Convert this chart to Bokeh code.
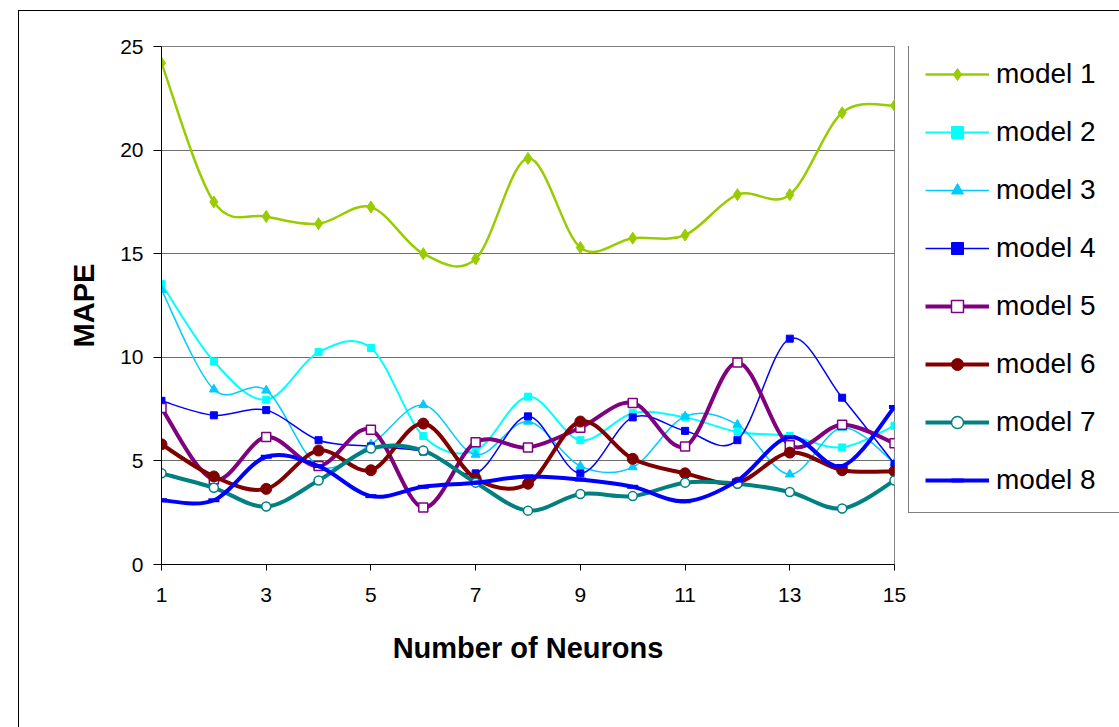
from bokeh.plotting import figure
from bokeh.layouts import row
from bokeh.models import (ColumnDataSource, Legend, LegendItem, FixedTicker, Range1d)
from bokeh.embed import file_html
from bokeh.resources import INLINE

# ---------------- data ----------------
neurons = [1, 2, 3, 4, 5, 6, 7, 8, 9, 10, 11, 12, 13, 14, 15]
model_1 = [24.2, 17.5, 16.8, 16.45, 17.25, 15.0, 14.75, 19.6, 15.3, 15.75, 15.9, 17.85, 17.85, 21.8, 22.15]
model_2 = [13.55, 9.8, 7.95, 10.25, 10.45, 6.2, 5.5, 8.1, 6.0, 7.3, 7.1, 6.4, 6.2, 5.65, 6.7]
model_3 = [13.25, 8.45, 8.4, 4.75, 5.8, 7.7, 5.3, 6.9, 4.75, 4.7, 7.15, 6.75, 4.35, 6.6, 4.9]
model_4 = [7.9, 7.2, 7.45, 6.0, 5.7, 5.45, 4.4, 7.15, 4.4, 7.1, 6.45, 6.0, 10.9, 8.05, 4.85]
model_5 = [7.55, 4.1, 6.15, 4.75, 6.5, 2.75, 5.9, 5.65, 6.6, 7.8, 5.7, 9.75, 5.75, 6.75, 5.85]
model_6 = [5.8, 4.25, 3.65, 5.5, 4.55, 6.8, 4.15, 3.9, 6.9, 5.1, 4.4, 3.95, 5.4, 4.55, 4.5]
model_7 = [4.4, 3.7, 2.8, 4.05, 5.6, 5.5, 3.95, 2.6, 3.4, 3.3, 3.95, 3.9, 3.5, 2.7, 4.05]
model_8 = [3.1, 3.1, 5.2, 4.75, 3.3, 3.75, 3.95, 4.25, 4.1, 3.75, 3.05, 4.05, 6.15, 4.75, 7.6]

series_names = ["model 1", "model 2", "model 3", "model 4",
                "model 5", "model 6", "model 7", "model 8"]
x_ticks = [1, 3, 5, 7, 9, 11, 13, 15]
y_ticks = [0, 5, 10, 15, 20, 25]

# ---------------- styles ----------------
styles = [
    dict(color="#99CC00", lw=2.5, marker="diamond", size=12, fill="#99CC00", mlw=1),
    dict(color="#00FFFF", lw=2, marker="square", size=7, fill="#00FFFF", mlw=1),
    dict(color="#00CCFF", lw=1.5, marker="triangle", size=9, fill="#00CCFF", mlw=1),
    dict(color="#0000FF", lw=1.5, marker="square", size=7, fill="#0000FF", mlw=1),
    dict(color="#800080", lw=4, marker="square", size=9, fill="white", mlw=1.5),
    dict(color="#800000", lw=4, marker="circle", size=11, fill="#800000", mlw=1),
    dict(color="#008080", lw=4, marker="circle", size=9, fill="white", mlw=1.5),
    dict(color="#0000FF", lw=4, marker="dash", size=11, fill="#0000FF", mlw=4),
]

FONT = "Liberation Sans"

p = figure(width=887, height=717, output_backend="svg", toolbar_location=None,
           x_range=Range1d(1, 15), y_range=Range1d(0, 25),
           min_border_left=142, min_border_right=12,
           min_border_top=35, min_border_bottom=164)
p.background_fill_color = "white"
p.border_fill_color = "white"
p.outline_line_color = "#808080"
p.outline_line_width = 1

# axes
p.xaxis.ticker = FixedTicker(ticks=x_ticks)
p.yaxis.ticker = FixedTicker(ticks=y_ticks)
for ax in (p.xaxis[0], p.yaxis[0]):
    ax.axis_line_color = "black"
    ax.axis_line_width = 1
    ax.major_tick_line_color = "black"
    ax.major_tick_in = 0
    ax.minor_tick_line_color = None
    ax.major_label_text_font = FONT
    ax.major_label_text_font_size = "21px"
    ax.major_label_text_color = "black"
    ax.axis_label_text_font = FONT
    ax.axis_label_text_font_size = "29px"
    ax.axis_label_text_font_style = "bold"
    ax.axis_label_text_color = "black"
p.xaxis.major_tick_out = 6
p.yaxis.major_tick_out = 8
p.xaxis.major_label_standoff = 17
p.yaxis.major_label_standoff = 10
p.xaxis.axis_label = "Number of Neurons"
p.yaxis.axis_label = "MAPE"
p.xaxis.axis_label_standoff = 27
p.yaxis.axis_label_standoff = 17

p.xgrid.grid_line_color = None
p.ygrid.grid_line_color = "#6e6e6e"
p.ygrid.grid_line_width = 1


def smooth_controls(xs, ys):
    """Bezier control points (Excel-like smoothing) between consecutive points."""
    n = len(xs)
    x0, y0, x1, y1, cx0, cy0, cx1, cy1 = [], [], [], [], [], [], [], []
    for i in range(n - 1):
        xa, ya = xs[i], ys[i]
        xb, yb = xs[i + 1], ys[i + 1]
        xp, yp = (xs[i - 1], ys[i - 1]) if i > 0 else (xa, ya)
        xn, yn = (xs[i + 2], ys[i + 2]) if i + 2 < n else (xb, yb)
        x0.append(xa); y0.append(ya); x1.append(xb); y1.append(yb)
        cx0.append(xa + (xb - xp) / 6.0); cy0.append(ya + (yb - yp) / 6.0)
        cx1.append(xb - (xn - xa) / 6.0); cy1.append(yb - (yn - ya) / 6.0)
    return dict(x0=x0, y0=y0, x1=x1, y1=y1, cx0=cx0, cy0=cy0, cx1=cx1, cy1=cy1)


# legend panel: a second, axis-less figure to the right of the chart
p_leg = figure(width=214, height=717, output_backend="svg", toolbar_location=None,
               x_axis_location=None, y_axis_location=None,
               min_border_left=0, min_border_right=0,
               min_border_top=0, min_border_bottom=0)
p_leg.outline_line_color = None
p_leg.xgrid.grid_line_color = None
p_leg.ygrid.grid_line_color = None
p_leg.background_fill_color = "white"
p_leg.border_fill_color = "white"

all_series = [model_1, model_2, model_3, model_4, model_5, model_6, model_7, model_8]
items = []
for name, vals, st in zip(series_names, all_series, styles):
    src = ColumnDataSource(smooth_controls(neurons, vals))
    pts = ColumnDataSource(dict(x=neurons, y=vals))
    for fig in (p, p_leg):
        bz = fig.bezier(x0="x0", y0="y0", x1="x1", y1="y1", cx0="cx0", cy0="cy0",
                        cx1="cx1", cy1="cy1", source=src, line_color=st["color"],
                        line_width=st["lw"])
        sc = fig.scatter(x="x", y="y", source=pts, marker=st["marker"], size=st["size"],
                         fill_color=st["fill"], line_color=st["color"],
                         line_width=st["mlw"])
        if fig is p_leg:
            bz.visible = False
            sc.visible = False
            items.append(LegendItem(label=name, renderers=[bz, sc]))

legend = Legend(items=items, location=(2, 51), margin=0)
legend.label_text_font = FONT
legend.label_text_font_size = "28px"
legend.label_text_color = "black"
legend.glyph_width = 64
legend.glyph_height = 30
legend.label_height = 30
legend.label_width = 130
legend.spacing = 26
legend.padding = 16
legend.label_standoff = 7
legend.border_line_color = "black"
legend.border_line_width = 1
legend.background_fill_color = "white"
legend.background_fill_alpha = 1
legend.inactive_fill_alpha = 0
p_leg.add_layout(legend, "center")

layout = row(p, p_leg, spacing=0)
layout.margin = (10, 0, 0, 18)
layout.styles = {"border-left": "1px solid black", "border-top": "1px solid black"}

open("out.html", "w").write(file_html(layout, INLINE))
